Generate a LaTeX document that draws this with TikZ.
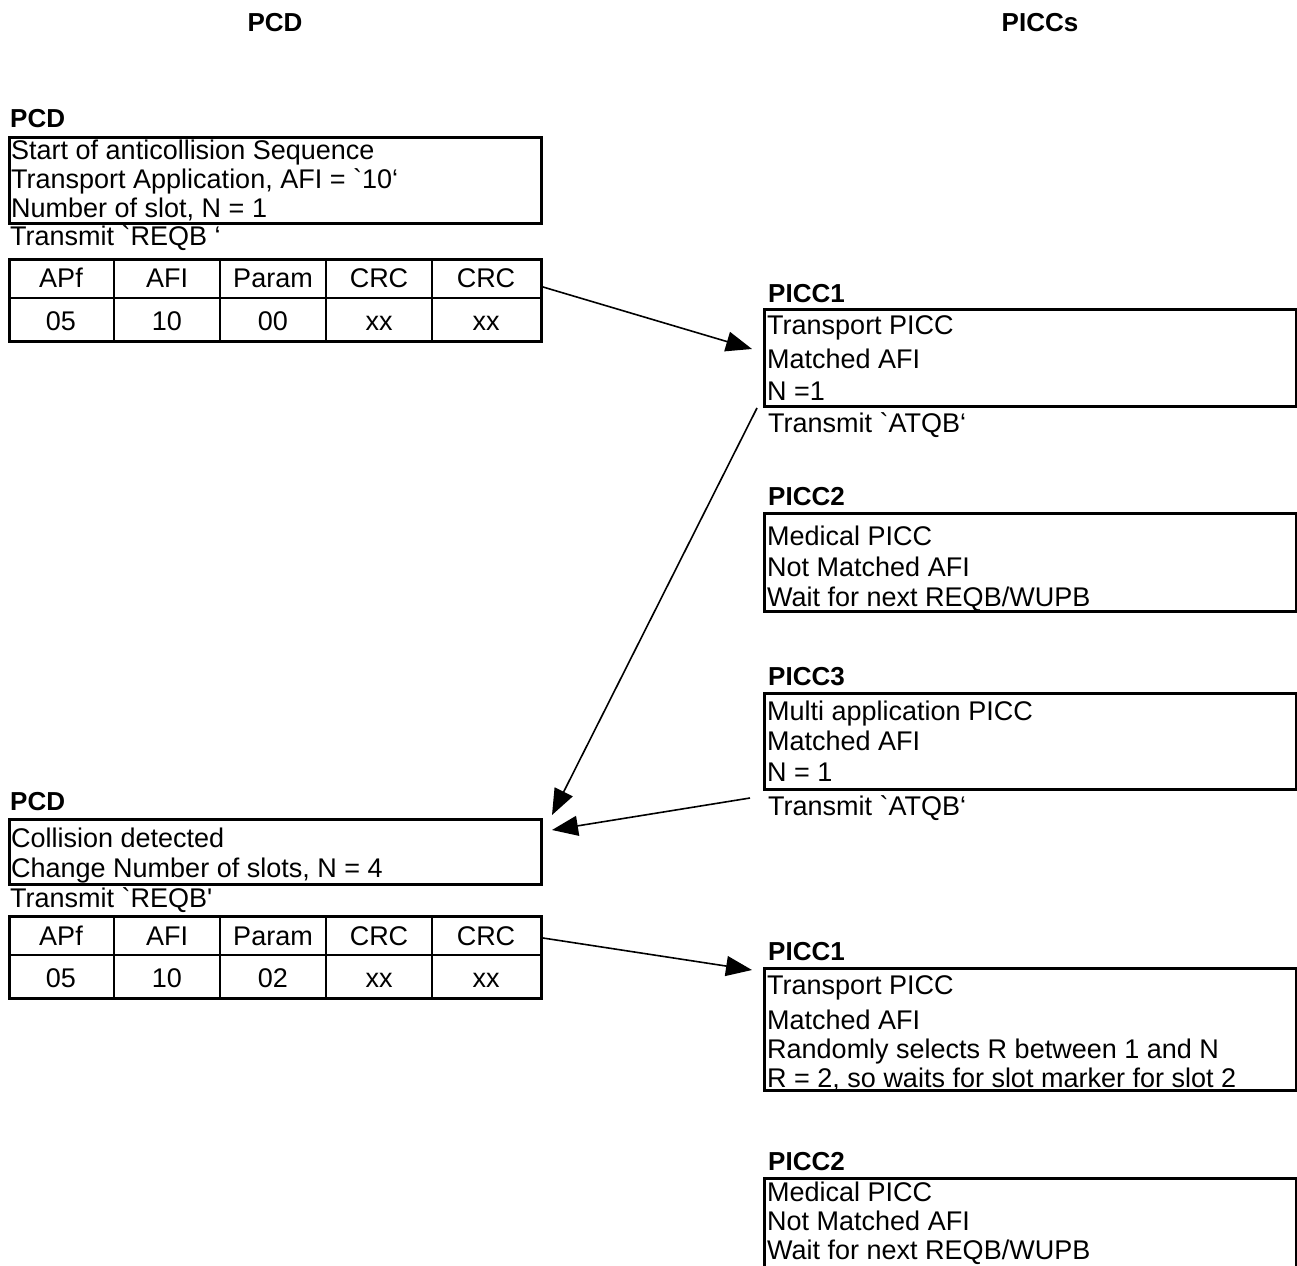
\documentclass[tikz,border=0pt]{standalone}
\usepackage{fontspec}
\newfontfamily\af{Liberation Sans}
\usetikzlibrary{arrows.meta}
\begin{document}
\begin{tikzpicture}[x=1pt,y=-1pt,
  txt/.style={anchor=base west, inner sep=0pt, font=\af\fontsize{27}{29}\selectfont},
  ctxt/.style={anchor=base, inner sep=0pt, font=\af\fontsize{27}{29}\selectfont},
  lbl/.style={anchor=base west, inner sep=0pt, font=\af\bfseries\fontsize{26}{29}\selectfont},
  hdr/.style={anchor=base, inner sep=0pt, font=\af\bfseries\fontsize{26}{29}\selectfont},
  box/.style={draw, line width=3pt, anchor=north west, inner sep=0pt},
  tabline/.style={line width=2.5pt},
  conn/.style={line width=1.6pt, -{Triangle[length=26pt,width=20pt]}}]
\useasboundingbox (0,0) rectangle (1297,1265);
\clip (0,0) rectangle (1297,1265);

% headers
\node[hdr] (hpcd) at (275,32) {PCD};
\node[hdr] (hpicc) at (1040,32) {PICCs};

% ---------- first PCD block ----------
\node[lbl] (pcd1) at (10,128) {PCD};
\node[box, minimum width=532pt, minimum height=86pt] (boxA) at (8,136) {};
\node[txt] (a1) at (11,160) {Start of anticollision Sequence};
\node[txt] (a2) at (11,189) {Transport Application, AFI = `10‘};
\node[txt] (a3) at (11,218) {Number of slot, N = 1};
\node[txt] (tr1) at (10,245) {Transmit `REQB ‘};

\node[draw, tabline, anchor=north west, inner sep=0pt, minimum width=532pt, minimum height=82pt] (tab1) at (8,258) {};
\draw[tabline] (8,298) -- (540,298);
\foreach \x in {114,220,326,432} \draw[tabline] (\x,258) -- (\x,340);
\node[ctxt] (t1c1) at (61,287) {APf};
\node[ctxt] (t1c2) at (167,287) {AFI};
\node[ctxt] (t1c3) at (273,287) {Param};
\node[ctxt] (t1c4) at (379,287) {CRC};
\node[ctxt] (t1c5) at (486,287) {CRC};
\node[ctxt] (t1d1) at (61,330) {05};
\node[ctxt] (t1d2) at (167,330) {10};
\node[ctxt] (t1d3) at (273,330) {00};
\node[ctxt] (t1d4) at (379,330) {xx};
\node[ctxt] (t1d5) at (486,330) {xx};

% ---------- PICC1 ----------
\node[lbl] (p1l) at (768,302) {PICC1};
\node[box, minimum width=532pt, minimum height=97pt] (boxP1) at (763,308) {};
\node[txt] (p1a) at (767,334) {Transport PICC};
\node[txt] (p1b) at (767,368) {Matched AFI};
\node[txt] (p1c) at (767,400) {N =1};
\node[txt] (p1t) at (768,432) {Transmit `ATQB‘};

% ---------- PICC2 ----------
\node[lbl] (p2l) at (768,505) {PICC2};
\node[box, minimum width=532pt, minimum height=98pt] (boxP2) at (763,512) {};
\node[txt] (p2a) at (767,545) {Medical PICC};
\node[txt] (p2b) at (767,576) {Not Matched AFI};
\node[txt] (p2c) at (767,606) {Wait for next REQB/WUPB};

% ---------- PICC3 ----------
\node[lbl] (p3l) at (768,685) {PICC3};
\node[box, minimum width=532pt, minimum height=96pt] (boxP3) at (763,692) {};
\node[txt] (p3a) at (767,720) {Multi application PICC};
\node[txt] (p3b) at (767,750) {Matched AFI};
\node[txt] (p3c) at (767,781) {N = 1};
\node[txt] (p3t) at (768,815) {Transmit `ATQB‘};

% ---------- second PCD block ----------
\node[lbl] (pcd2) at (10,810) {PCD};
\node[box, minimum width=532pt, minimum height=65pt] (boxB) at (8,818) {};
\node[txt] (b1) at (11,847) {Collision detected};
\node[txt] (b2) at (11,877) {Change Number of slots, N = 4};
\node[txt] (tr2) at (10,907) {Transmit `REQB'};

\node[draw, tabline, anchor=north west, inner sep=0pt, minimum width=532pt, minimum height=82pt] (tab2) at (8,915) {};
\draw[tabline] (8,955) -- (540,955);
\foreach \x in {114,220,326,432} \draw[tabline] (\x,915) -- (\x,997);
\node[ctxt] (t2c1) at (61,945) {APf};
\node[ctxt] (t2c2) at (167,945) {AFI};
\node[ctxt] (t2c3) at (273,945) {Param};
\node[ctxt] (t2c4) at (379,945) {CRC};
\node[ctxt] (t2c5) at (486,945) {CRC};
\node[ctxt] (t2d1) at (61,987) {05};
\node[ctxt] (t2d2) at (167,987) {10};
\node[ctxt] (t2d3) at (273,987) {02};
\node[ctxt] (t2d4) at (379,987) {xx};
\node[ctxt] (t2d5) at (486,987) {xx};

% ---------- PICC1 (second round) ----------
\node[lbl] (q1l) at (768,960) {PICC1};
\node[box, minimum width=532pt, minimum height=122pt] (boxQ1) at (763,967) {};
\node[txt] (q1a) at (767,994) {Transport PICC};
\node[txt] (q1b) at (767,1029) {Matched AFI};
\node[txt] (q1c) at (767,1058) {Randomly selects R between 1 and N};
\node[txt] (q1d) at (767,1087) {R = 2, so waits for slot marker for slot 2};

% ---------- PICC2 (second round) ----------
\node[lbl] (q2l) at (768,1170) {PICC2};
\node[box, minimum width=532pt, minimum height=110pt] (boxQ2) at (763,1177) {};
\node[txt] (q2a) at (767,1201) {Medical PICC};
\node[txt] (q2b) at (767,1230) {Not Matched AFI};
\node[txt] (q2c) at (767,1259) {Wait for next REQB/WUPB};

% ---------- connectors ----------
\coordinate (c1s) at (543,287);
\coordinate (c1e) at (752,349);
\coordinate (c2s) at (757,408);
\coordinate (c2e) at (552,815);
\coordinate (c3s) at (750,798);
\coordinate (c3e) at (552,830);
\coordinate (c4s) at (543,938);
\coordinate (c4e) at (752,970);
\draw[conn] (c1s) -- (c1e);
\draw[conn] (c2s) -- (c2e);
\draw[conn] (c3s) -- (c3e);
\draw[conn] (c4s) -- (c4e);
\end{tikzpicture}
\end{document}
